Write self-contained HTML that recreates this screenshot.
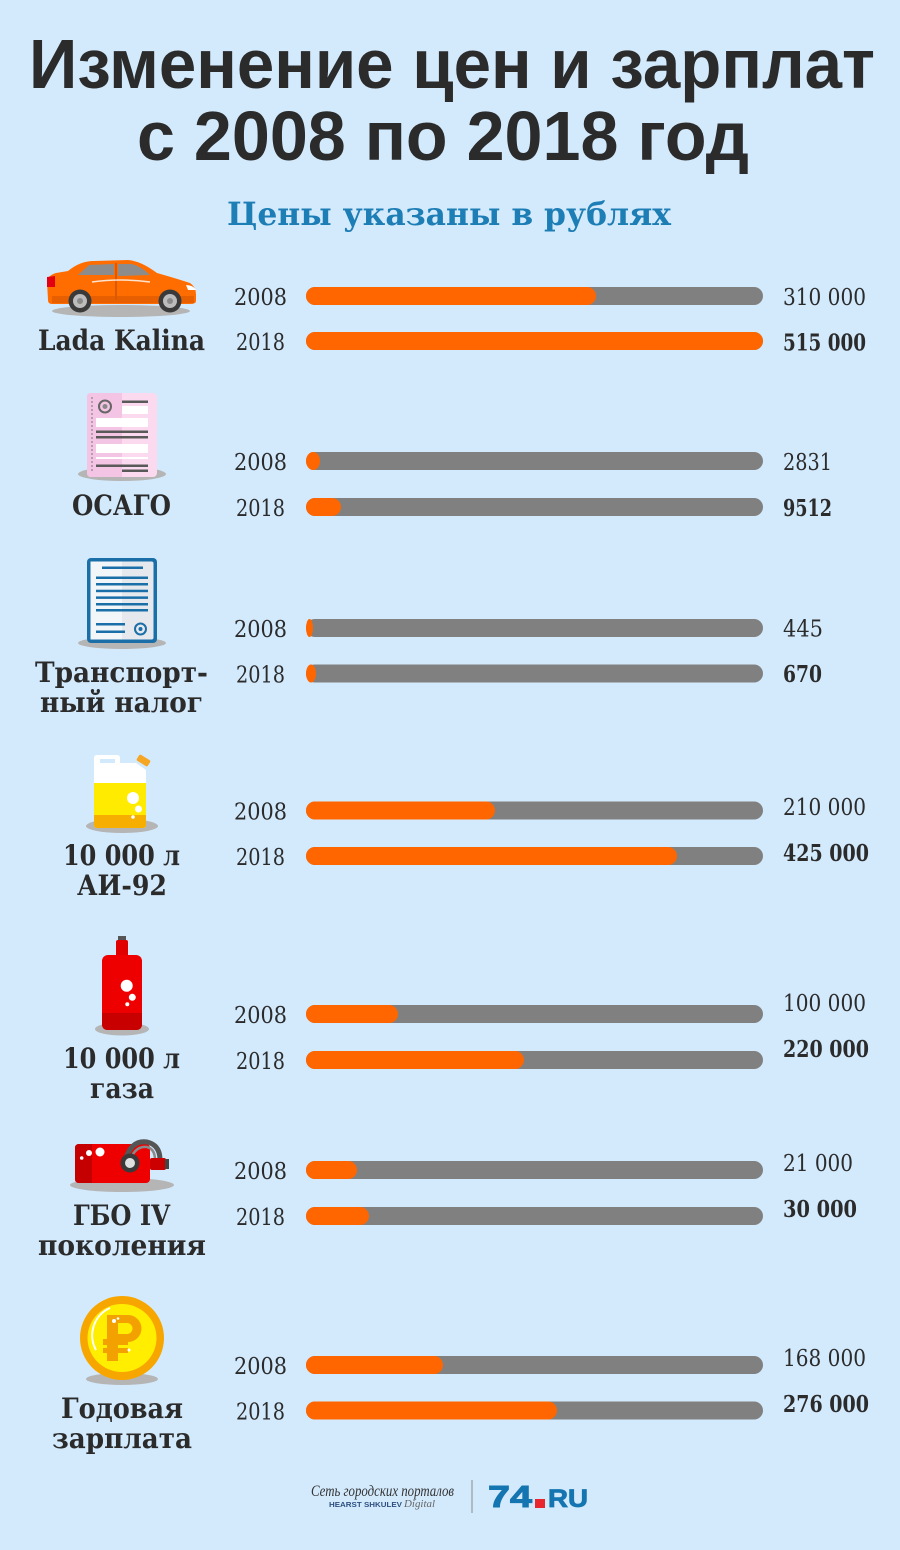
<!DOCTYPE html>
<html><head><meta charset="utf-8"><style>
html,body{margin:0;padding:0;background:#d3eafd;}
svg{display:block;}
</style></head><body>
<svg width="900" height="1550" viewBox="0 0 900 1550" xmlns="http://www.w3.org/2000/svg">
<rect width="900" height="1550" fill="#d3eafd"/>
<!-- Title -->
<g font-family="'Liberation Sans', 'Noto Sans CJK SC', sans-serif" font-weight="bold" font-size="70" fill="#2b2b2b">
<text x="29" y="88" textLength="846" lengthAdjust="spacingAndGlyphs">Изменение цен и зарплат</text>
<text x="137" y="160" textLength="612" lengthAdjust="spacingAndGlyphs">с 2008 по 2018 год</text>
</g>
<text x="227" y="225" font-family="'DejaVu Serif', serif" font-weight="bold" font-size="32" fill="#1d7db5" textLength="444" lengthAdjust="spacingAndGlyphs">Цены указаны в рублях</text>

<!-- Category labels -->
<g font-family="'DejaVu Serif', 'Liberation Serif', serif" font-weight="bold" font-size="28" fill="#2b2b2b">
<text x="38" y="350" textLength="167" lengthAdjust="spacingAndGlyphs">Lada Kalina</text>
<text x="72" y="515" textLength="99" lengthAdjust="spacingAndGlyphs">ОСАГО</text>
<text x="35" y="682" textLength="173" lengthAdjust="spacingAndGlyphs">Транспорт-</text>
<text x="40" y="712" textLength="163" lengthAdjust="spacingAndGlyphs">ный налог</text>
<text x="63" y="865" textLength="117" lengthAdjust="spacingAndGlyphs">10 000 л</text>
<text x="77" y="895" textLength="90" lengthAdjust="spacingAndGlyphs">АИ-92</text>
<text x="63" y="1068" textLength="117" lengthAdjust="spacingAndGlyphs">10 000 л</text>
<text x="90" y="1098" textLength="64" lengthAdjust="spacingAndGlyphs">газа</text>
<text x="73" y="1225" textLength="97" lengthAdjust="spacingAndGlyphs">ГБО IV</text>
<text x="38" y="1255" textLength="168" lengthAdjust="spacingAndGlyphs">поколения</text>
<text x="61" y="1418" textLength="122" lengthAdjust="spacingAndGlyphs">Годовая</text>
<text x="52" y="1448" textLength="140" lengthAdjust="spacingAndGlyphs">зарплата</text>
</g>

<!-- Year labels -->
<g font-family="'DejaVu Serif', 'Liberation Serif', serif" font-size="23.5" fill="#2b2b2b" lengthAdjust="spacingAndGlyphs">
<text x="234" y="305" textLength="53" lengthAdjust="spacingAndGlyphs">2008</text><text x="236" y="350" textLength="49" lengthAdjust="spacingAndGlyphs">2018</text>
<text x="234" y="470" textLength="53" lengthAdjust="spacingAndGlyphs">2008</text><text x="236" y="516" textLength="49" lengthAdjust="spacingAndGlyphs">2018</text>
<text x="234" y="637" textLength="53" lengthAdjust="spacingAndGlyphs">2008</text><text x="236" y="682.5" textLength="49" lengthAdjust="spacingAndGlyphs">2018</text>
<text x="234" y="819.5" textLength="53" lengthAdjust="spacingAndGlyphs">2008</text><text x="236" y="865" textLength="49" lengthAdjust="spacingAndGlyphs">2018</text>
<text x="234" y="1023" textLength="53" lengthAdjust="spacingAndGlyphs">2008</text><text x="236" y="1069" textLength="49" lengthAdjust="spacingAndGlyphs">2018</text>
<text x="234" y="1179" textLength="53" lengthAdjust="spacingAndGlyphs">2008</text><text x="236" y="1225" textLength="49" lengthAdjust="spacingAndGlyphs">2018</text>
<text x="234" y="1374" textLength="53" lengthAdjust="spacingAndGlyphs">2008</text><text x="236" y="1419.5" textLength="49" lengthAdjust="spacingAndGlyphs">2018</text>
</g>

<!-- Bars -->
<g>
<rect x="306" y="287" width="457" height="18" rx="9" ry="9" fill="#808080"/>
<rect x="306" y="287" width="290" height="18" rx="9" ry="9" fill="#ff6600"/>
<rect x="306" y="332" width="457" height="18" rx="9" ry="9" fill="#808080"/>
<rect x="306" y="332" width="457" height="18" rx="9" ry="9" fill="#ff6600"/>

<rect x="306" y="452" width="457" height="18" rx="9" ry="9" fill="#808080"/>
<rect x="306" y="452" width="14" height="18" rx="9" ry="9" fill="#ff6600"/>
<rect x="306" y="498" width="457" height="18" rx="9" ry="9" fill="#808080"/>
<rect x="306" y="498" width="35" height="18" rx="9" ry="9" fill="#ff6600"/>

<rect x="306" y="619" width="457" height="18" rx="9" ry="9" fill="#808080"/>
<rect x="306" y="619" width="7" height="18" rx="9" ry="9" fill="#ff6600"/>
<rect x="306" y="664.5" width="457" height="18" rx="9" ry="9" fill="#808080"/>
<rect x="306" y="664.5" width="10" height="18" rx="9" ry="9" fill="#ff6600"/>

<rect x="306" y="801.5" width="457" height="18" rx="9" ry="9" fill="#808080"/>
<rect x="306" y="801.5" width="189" height="18" rx="9" ry="9" fill="#ff6600"/>
<rect x="306" y="847" width="457" height="18" rx="9" ry="9" fill="#808080"/>
<rect x="306" y="847" width="371" height="18" rx="9" ry="9" fill="#ff6600"/>

<rect x="306" y="1005" width="457" height="18" rx="9" ry="9" fill="#808080"/>
<rect x="306" y="1005" width="92" height="18" rx="9" ry="9" fill="#ff6600"/>
<rect x="306" y="1051" width="457" height="18" rx="9" ry="9" fill="#808080"/>
<rect x="306" y="1051" width="218" height="18" rx="9" ry="9" fill="#ff6600"/>

<rect x="306" y="1161" width="457" height="18" rx="9" ry="9" fill="#808080"/>
<rect x="306" y="1161" width="51" height="18" rx="9" ry="9" fill="#ff6600"/>
<rect x="306" y="1207" width="457" height="18" rx="9" ry="9" fill="#808080"/>
<rect x="306" y="1207" width="63" height="18" rx="9" ry="9" fill="#ff6600"/>

<rect x="306" y="1356" width="457" height="18" rx="9" ry="9" fill="#808080"/>
<rect x="306" y="1356" width="137" height="18" rx="9" ry="9" fill="#ff6600"/>
<rect x="306" y="1401.5" width="457" height="18" rx="9" ry="9" fill="#808080"/>
<rect x="306" y="1401.5" width="251" height="18" rx="9" ry="9" fill="#ff6600"/>
</g>

<!-- Values -->
<g font-family="'DejaVu Serif', 'Liberation Serif', serif" font-size="23" fill="#2b2b2b">
<text x="783" y="305" textLength="83" lengthAdjust="spacingAndGlyphs">310 000</text>
<text x="783" y="350.5" font-weight="bold" textLength="83" lengthAdjust="spacingAndGlyphs">515 000</text>
<text x="783" y="470" textLength="49" lengthAdjust="spacingAndGlyphs">2831</text>
<text x="783" y="516" font-weight="bold" textLength="49" lengthAdjust="spacingAndGlyphs">9512</text>
<text x="783" y="636.5" textLength="40" lengthAdjust="spacingAndGlyphs">445</text>
<text x="783" y="682" font-weight="bold" textLength="39" lengthAdjust="spacingAndGlyphs">670</text>
<text x="783" y="815" textLength="83" lengthAdjust="spacingAndGlyphs">210 000</text>
<text x="783" y="861" font-weight="bold" textLength="86" lengthAdjust="spacingAndGlyphs">425 000</text>
<text x="783" y="1011" textLength="83" lengthAdjust="spacingAndGlyphs">100 000</text>
<text x="783" y="1057" font-weight="bold" textLength="86" lengthAdjust="spacingAndGlyphs">220 000</text>
<text x="783" y="1171" textLength="70" lengthAdjust="spacingAndGlyphs">21 000</text>
<text x="783" y="1217" font-weight="bold" textLength="74" lengthAdjust="spacingAndGlyphs">30 000</text>
<text x="783" y="1366" textLength="83" lengthAdjust="spacingAndGlyphs">168 000</text>
<text x="783" y="1412" font-weight="bold" textLength="86" lengthAdjust="spacingAndGlyphs">276 000</text>
</g>

<!-- Car icon -->
<g>
<ellipse cx="121" cy="311" rx="69" ry="6" fill="#b5b5b5"/>
<path d="M48,300 L47,282 Q48,275 56,273 L68,271 Q80,261 94,261 L128,260 Q141,261 157,273 Q178,279 190,283 Q196,287 196,294 L196,301 Q196,304 190,304 L52,304 Q48,304 48,300 Z" fill="#ff6d00"/>
<path d="M52,296 L194,296 L194,303 L52,303 Z" fill="#e85f00"/>
<path d="M78,275 L89,265 L114,264 L114,275 Z" fill="#8c8c8c"/>
<path d="M118,264 L132,264 Q142,267 150,275 L118,276 Z" fill="#8c8c8c"/>
<rect x="115" y="263" width="2" height="37" fill="#d95a00"/>
<path d="M47,277 L55,276 L55,287 L47,287 Z" fill="#e30010"/>
<path d="M186,285 Q193,285 196,290 L188,290 Z" fill="#ffffff"/>
<path d="M92,282 Q120,278 150,282" stroke="#ffffff" stroke-width="1.5" fill="none" opacity="0.8"/>
<circle cx="80" cy="301" r="11.5" fill="#3a3a3a"/>
<circle cx="80" cy="301" r="7" fill="#bcbcbc"/>
<circle cx="80" cy="301" r="3" fill="#8a8a8a"/>
<circle cx="170" cy="301" r="11.5" fill="#3a3a3a"/>
<circle cx="170" cy="301" r="7" fill="#bcbcbc"/>
<circle cx="170" cy="301" r="3" fill="#8a8a8a"/>
</g>

<!-- OSAGO icon -->
<g>
<ellipse cx="122" cy="474" rx="44" ry="7" fill="#b5b5b5"/>
<rect x="87" y="393" width="70" height="84" rx="4" fill="#fbdaf0"/>
<path d="M91,393 L122,393 L122,477 L91,477 Q87,477 87,473 L87,397 Q87,393 91,393 Z" fill="#f4c4e4"/>
<line x1="92" y1="397" x2="92" y2="473" stroke="#777" stroke-width="1" stroke-dasharray="2,2"/>
<circle cx="105" cy="406.5" r="6" fill="none" stroke="#666" stroke-width="2"/>
<circle cx="105" cy="406.5" r="2.5" fill="#888"/>
<rect x="122" y="400.5" width="26" height="2.5" fill="#595959"/>
<rect x="122" y="406" width="26" height="8" fill="#ffffff"/>
<rect x="96" y="418" width="52" height="9" fill="#ffffff"/>
<rect x="96" y="430.5" width="52" height="2.5" fill="#595959"/>
<rect x="96" y="436" width="52" height="2.5" fill="#595959"/>
<rect x="96" y="444" width="52" height="9" fill="#ffffff"/>
<rect x="96" y="457" width="52" height="2" fill="#ffffff"/>
<rect x="96" y="464.5" width="52" height="2.5" fill="#595959"/>
<rect x="122" y="469.5" width="26" height="2.5" fill="#595959"/>
</g>

<!-- Tax icon -->
<g>
<ellipse cx="122" cy="643" rx="44" ry="6" fill="#b5b5b5"/>
<rect x="87" y="558" width="70" height="85" rx="4" fill="#1b6fa8"/>
<rect x="90.5" y="561.5" width="63" height="78" rx="2" fill="#e5e9ee"/>
<rect x="90.5" y="561.5" width="31.5" height="78" fill="#f3f6f9"/>
<g fill="#1b6fa8">
<rect x="102" y="566.5" width="41" height="2.5"/>
<rect x="96" y="576.5" width="52" height="2.5"/>
<rect x="96" y="583" width="52" height="2.5"/>
<rect x="96" y="589.7" width="52" height="2.5"/>
<rect x="96" y="596.4" width="52" height="2.5"/>
<rect x="96" y="603" width="52" height="2.5"/>
<rect x="96" y="609" width="52" height="2.5"/>
<rect x="96" y="623" width="29" height="2.5"/>
<rect x="96" y="630.5" width="29" height="2.5"/>
</g>
<circle cx="140.5" cy="629" r="5.5" fill="none" stroke="#1b6fa8" stroke-width="2"/>
<circle cx="140.5" cy="629" r="2" fill="#1b6fa8"/>
</g>

<!-- Canister icon -->
<g>
<ellipse cx="122" cy="826" rx="36" ry="7" fill="#b5b5b5"/>
<path d="M94,758 Q94,755 97,755 L117,755 Q120,755 120,758 L120,763 L136,763 L146,770 L146,825 Q146,828 143,828 L97,828 Q94,828 94,825 Z" fill="#ffffff"/>
<rect x="100" y="759" width="15" height="4" fill="#d3eafd"/>
<rect x="94" y="783" width="52" height="33" fill="#ffeb00"/>
<path d="M94,815 L146,815 L146,825 Q146,828 143,828 L97,828 Q94,828 94,825 Z" fill="#f6ae00"/>
<rect x="137" y="757" width="13" height="7" rx="1.5" fill="#f5a623" transform="rotate(32 143.5 760.5)"/>
<circle cx="133" cy="798" r="6" fill="#ffffff"/>
<circle cx="138.5" cy="809" r="3.5" fill="#ffffff"/>
<circle cx="133" cy="817" r="1.8" fill="#ffffff"/>
</g>

<!-- Gas cylinder icon -->
<g>
<ellipse cx="122" cy="1029" rx="27" ry="6.5" fill="#b5b5b5"/>
<rect x="118" y="936" width="8" height="6" fill="#555555"/>
<rect x="116" y="940" width="12" height="17" rx="2" fill="#e00000"/>
<rect x="102" y="955" width="40" height="75" rx="6" fill="#ee0000"/>
<path d="M102,1013 L142,1013 L142,1024 Q142,1030 136,1030 L108,1030 Q102,1030 102,1024 Z" fill="#c80000"/>
<circle cx="126.7" cy="985.7" r="6" fill="#ffffff"/>
<circle cx="132.3" cy="997.3" r="3.5" fill="#ffffff"/>
<circle cx="127.3" cy="1004.3" r="2" fill="#ffffff"/>
</g>

<!-- GBO icon -->
<g>
<ellipse cx="122" cy="1185" rx="52" ry="7" fill="#b5b5b5"/>
<rect x="75" y="1144" width="75" height="39" rx="4" fill="#ee0000"/>
<path d="M79,1144 L92,1144 L92,1183 L79,1183 Q75,1183 75,1179 L75,1148 Q75,1144 79,1144 Z" fill="#c40000"/>
<circle cx="100" cy="1152" r="4.5" fill="#ffffff"/>
<circle cx="89" cy="1153" r="3" fill="#ffffff"/>
<circle cx="81.7" cy="1158" r="1.8" fill="#ffffff"/>
<path d="M126,1158 Q132,1140 147,1142 Q160,1145 160,1160" stroke="#555555" stroke-width="5" fill="none"/>
<path d="M131,1158 Q136,1146 147,1147 Q155,1149 155,1160" stroke="#8a8a8a" stroke-width="2.5" fill="none"/>
<rect x="150" y="1158" width="16" height="12" rx="2" fill="#cc0000"/>
<rect x="165" y="1159" width="4" height="10" fill="#444"/>
<circle cx="130" cy="1163" r="9.5" fill="#3a3a3a"/>
<circle cx="130" cy="1163" r="5" fill="#e0e0e0"/>
</g>

<!-- Coin icon -->
<g>
<ellipse cx="122" cy="1379" rx="36" ry="6" fill="#b5b5b5"/>
<ellipse cx="122" cy="1338" rx="42" ry="42" fill="#f7a600"/>
<ellipse cx="122" cy="1338" rx="34.5" ry="34" fill="#ffee00"/>
<path d="M96,1350 A30,30 0 0 1 110,1308" stroke="#ffffff" stroke-width="2" fill="none"/>
<g fill="#f2a100">
<rect x="107" y="1315" width="11" height="46"/>
<path d="M107,1315 L128,1315 A13.5,13.5 0 0 1 128,1342 L107,1342 Z"/>
<rect x="103" y="1339" width="25" height="6"/>
<rect x="103" y="1348" width="25" height="5"/>
</g>
<path d="M118,1323 L127,1323 A5.5,5.5 0 0 1 127,1334 L118,1334 Z" fill="#ffee00"/>
<circle cx="114" cy="1321" r="2" fill="#ffffff"/>
<circle cx="118" cy="1318.5" r="1.3" fill="#ffffff"/>
<circle cx="129" cy="1350" r="1.5" fill="#ffffff"/>
</g>

<!-- Footer -->
<text x="311" y="1496" font-family="'Liberation Serif', serif" font-style="italic" font-size="16" fill="#333333" textLength="143" lengthAdjust="spacingAndGlyphs">Сеть городских порталов</text>
<text x="329" y="1507" font-family="'Liberation Sans', sans-serif" font-weight="bold" font-size="7.5" fill="#2e4f80" textLength="73" lengthAdjust="spacingAndGlyphs">HEARST SHKULEV</text>
<text x="404" y="1507" font-family="'Liberation Serif', serif" font-style="italic" font-size="11" fill="#666666" textLength="31" lengthAdjust="spacingAndGlyphs">Digital</text>
<line x1="472" y1="1480" x2="472" y2="1513" stroke="#8a8a8a" stroke-width="1"/>
<text x="488" y="1507" font-family="'Liberation Sans', sans-serif" font-weight="bold" font-size="31" fill="#1575b0" stroke="#1575b0" stroke-width="1" textLength="44" lengthAdjust="spacingAndGlyphs">74</text>
<rect x="535" y="1499" width="10" height="9" fill="#e8262d"/>
<text x="548" y="1507" font-family="'Liberation Sans', sans-serif" font-weight="bold" font-size="25" fill="#1575b0" stroke="#1575b0" stroke-width="0.8" textLength="40" lengthAdjust="spacingAndGlyphs">RU</text>
</svg>
</body></html>
